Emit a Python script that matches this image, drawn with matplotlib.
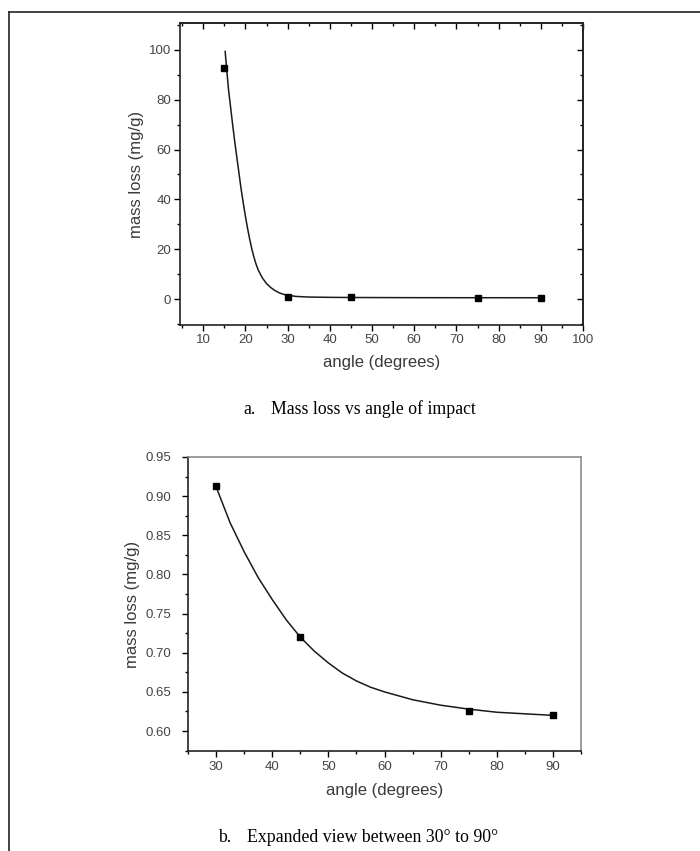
import numpy as np
import matplotlib
matplotlib.use('Agg')
import matplotlib.pyplot as plt
from matplotlib.lines import Line2D
from matplotlib.ticker import MultipleLocator, NullFormatter, FormatStrFormatter

# Measured points
angle = [15, 30, 45, 75, 90]
mass_loss = [92.6, 0.913, 0.720, 0.626, 0.620]

# Fitted curve
fit_a_x = [15.2, 15.6, 16.0, 16.5, 17.0, 17.5, 18.0, 18.5, 19.0, 19.5, 20.0, 20.5,
           21.0, 21.5, 22.0, 22.5, 23.0, 24.0, 25.0, 26.0, 27.0, 28.0, 29.0, 30.0,
           32.0, 35.0, 40.0, 45.0, 60.0, 75.0, 90.0]
fit_a_y = [99.3, 91.5, 84.0, 76.8, 69.6, 62.8, 56.5, 50.2, 44.0, 38.5, 33.3, 28.5,
           24.2, 20.3, 17.0, 14.2, 11.9, 8.6, 6.3, 4.7, 3.5, 2.6, 2.0, 1.6,
           1.15, 0.9, 0.78, 0.72, 0.65, 0.628, 0.62]

# Fitted curve (30-90 deg)
fit_b_x = [30, 32.5, 35, 37.5, 40, 42.5, 45, 47.5, 50, 52.5, 55, 57.5, 60,
           65, 70, 75, 80, 85, 90]
fit_b_y = [0.912, 0.866, 0.829, 0.796, 0.768, 0.742, 0.720, 0.702, 0.687, 0.674,
           0.664, 0.656, 0.650, 0.640, 0.633, 0.628, 0.624, 0.622, 0.620]

W, H = 700, 851
fig = plt.figure(figsize=(W / 100, H / 100), dpi=100)
fig.patch.set_facecolor('white')

sans = 'Liberation Sans'
serif = 'Liberation Serif'
tick_col = '#444444'
lab_col = '#3a3a3a'


def frac(left, top, right, bottom):
    return [left / W, 1 - bottom / H, (right - left) / W, (bottom - top) / H]


# ---- panel a ----
ax1 = fig.add_axes(frac(180, 23, 583, 325))
ax1.plot(fit_a_x, fit_a_y, color='#1a1a1a', lw=1.1, zorder=2)
ax1.plot(angle, mass_loss, 's', color='black', ms=4.5, zorder=3)
ax1.set_xlim(4.5, 100)
ax1.set_ylim(-10.3, 110.7)
ax1.xaxis.set_major_locator(MultipleLocator(10))
ax1.xaxis.set_minor_locator(MultipleLocator(5))
ax1.yaxis.set_major_locator(MultipleLocator(20))
ax1.yaxis.set_minor_locator(MultipleLocator(10))
ax1.tick_params(which='major', direction='out', length=4, width=1, colors='black',
                labelcolor=tick_col, labelsize=9.5, pad=2.5)
ax1.tick_params(which='minor', direction='out', length=2.5, width=1, colors='black')
for lbl in ax1.get_xticklabels() + ax1.get_yticklabels():
    lbl.set_fontfamily(sans)
for s in ax1.spines.values():
    s.set_linewidth(1.2)
    s.set_color('#222222')

# mirrored inward ticks on top and right
top = ax1.secondary_xaxis('top')
top.xaxis.set_major_locator(MultipleLocator(10))
top.xaxis.set_minor_locator(MultipleLocator(5))
top.xaxis.set_major_formatter(NullFormatter())
top.tick_params(which='major', direction='in', length=4, width=1)
top.tick_params(which='minor', direction='in', length=2.5, width=1)
right = ax1.secondary_yaxis('right')
right.yaxis.set_major_locator(MultipleLocator(20))
right.yaxis.set_minor_locator(MultipleLocator(10))
right.yaxis.set_major_formatter(NullFormatter())
right.tick_params(which='major', direction='in', length=4, width=1)
right.tick_params(which='minor', direction='in', length=2.5, width=1)
for sa in (top, right):
    for s in sa.spines.values():
        s.set_linewidth(1.2)
        s.set_color('#222222')

ax1.set_xlabel('angle (degrees)', fontfamily=sans, fontsize=12, color=lab_col)
ax1.set_ylabel('mass loss (mg/g)', fontfamily=sans, fontsize=12, color=lab_col)
ax1.xaxis.set_label_coords(0.5, -38 / 302)
ax1.yaxis.set_label_coords(-43 / 403, 0.5)
ax1.xaxis.label.set_va('center')
ax1.yaxis.label.set_va('center')

# ---- panel b ----
ax2 = fig.add_axes(frac(188, 457, 581, 751))
ax2.plot(fit_b_x, fit_b_y, color='#1a1a1a', lw=1.1, zorder=2)
ax2.plot(angle[1:], mass_loss[1:], 's', color='black', ms=4.5, zorder=3)
ax2.set_xlim(25, 95)
ax2.set_ylim(0.5745, 0.95)
ax2.xaxis.set_major_locator(MultipleLocator(10))
ax2.xaxis.set_minor_locator(MultipleLocator(5))
ax2.yaxis.set_major_locator(MultipleLocator(0.05))
ax2.yaxis.set_minor_locator(MultipleLocator(0.025))
ax2.yaxis.set_major_formatter(FormatStrFormatter('%.2f'))
ax2.tick_params(which='major', direction='out', length=4, width=1, colors='black',
                labelcolor=tick_col, labelsize=9.5, pad=3)
ax2.tick_params(axis='y', which='major', pad=8)
ax2.tick_params(which='minor', direction='out', length=2.5, width=1, colors='black')
for lbl in ax2.get_xticklabels() + ax2.get_yticklabels():
    lbl.set_fontfamily(sans)
ax2.spines['left'].set_color('#222222')
ax2.spines['bottom'].set_color('#222222')
ax2.spines['top'].set_color('#8c8c8c')
ax2.spines['right'].set_color('#8c8c8c')
for s in ax2.spines.values():
    s.set_linewidth(1.2)

ax2.set_xlabel('angle (degrees)', fontfamily=sans, fontsize=12, color=lab_col)
ax2.set_ylabel('mass loss (mg/g)', fontfamily=sans, fontsize=12, color=lab_col)
ax2.xaxis.set_label_coords(0.5, -39 / 294)
ax2.yaxis.set_label_coords(-55 / 393, 0.5)
ax2.xaxis.label.set_va('center')
ax2.yaxis.label.set_va('center')

# ---- captions ----
cap_size = 12.8
fig.text(243 / W, 1 - 409 / H, 'a.', fontfamily=serif, fontsize=cap_size, va='center', ha='left')
fig.text(271 / W, 1 - 409 / H, 'Mass loss vs angle of impact', fontfamily=serif,
         fontsize=cap_size, va='center', ha='left')
fig.text(218 / W, 1 - 838 / H, 'b.', fontfamily=serif, fontsize=cap_size, va='center', ha='left')
fig.text(247 / W, 1 - 838 / H, 'Expanded view between 30\u00b0 to 90\u00b0', fontfamily=serif,
         fontsize=cap_size, va='center', ha='left')

# ---- page frame (cut at right and bottom) ----
fx, fy = 8.5 / W, 1 - 11.5 / H
fig.add_artist(Line2D([fx, fx], [0, fy], transform=fig.transFigure, color='#222222', lw=1.2))
fig.add_artist(Line2D([fx, 1], [fy, fy], transform=fig.transFigure, color='#222222', lw=1.2))

fig.savefig('out.png', dpi=100)
